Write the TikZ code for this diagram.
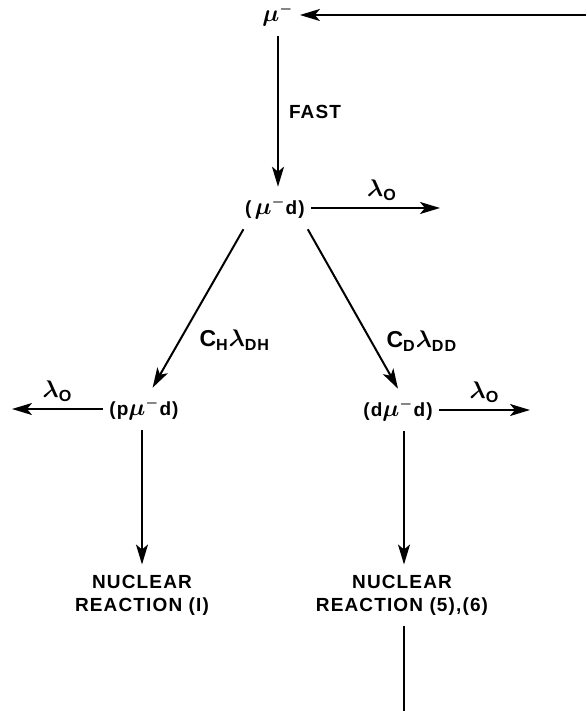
\documentclass[tikz,border=0pt]{standalone}
\usepackage{amsmath}
\usepackage{fontspec}
\setmainfont{Liberation Sans}
\newfontfamily\schemefont[LetterSpace=6]{Liberation Sans}
\newcommand{\muon}{{\fontsize{12.5}{13}\selectfont$\mu^{\scriptscriptstyle -}$}}
\usetikzlibrary{arrows.meta, positioning}

\begin{document}
\begin{tikzpicture}[x=0.5pt, y=-0.5pt,
  state/.style={inner xsep=3pt, inner ysep=5pt, font=\schemefont\bfseries\boldmath\fontsize{9.5}{11.5}\selectfont},
  arr/.style={-{Stealth[length=10pt, width=6pt, inset=2.5pt]}, line width=1pt},
  lbl/.style={font=\schemefont\bfseries\boldmath\fontsize{11.5}{13}\selectfont},
]
  \useasboundingbox (0,0) rectangle (586,711);

  % states
  \node[state] (mu)   at (278,15)  {\muon};
  \node[state] (mud)  at (275,208) {(\,\muon d)};
  \node[state] (pmud) at (144,409) {(p\muon d)};
  \node[state] (dmud) at (398,410) {(d\muon d)};
  \node[state, align=center] (nr1) at (142,595) {NUCLEAR\\REACTION (I)};
  \node[state, align=center] (nr2) at (402,595) {NUCLEAR\\REACTION (5),(6)};

  % loose ends
  \coordinate (back) at (586,15);
  \coordinate (lost) at (404,711);
  \coordinate (o1) at (440,208);
  \coordinate (o2) at (12,409);
  \coordinate (o3) at (530,410);

  \draw[arr] (back) -- (mu);
  \draw[arr] (mu.south) -- node[state, right=2pt]{FAST} (mu.south |- mud.north);
  \draw[arr] (mud) -- node[lbl, above=0pt, pos=0.55]{$\lambda_{\text{O}}$} (o1);
  \draw[arr] (mud.214) -- node[lbl, pos=0.7, right=6pt]{C$_{\text{H}}\lambda_{\text{DH}}$} (pmud.68);
  \draw[arr] (mud.327) -- node[lbl, pos=0.7, right=4pt]{C$_{\text{D}}\lambda_{\text{DD}}$} (dmud.north);
  \draw[arr] (pmud) -- node[lbl, above=0pt]{$\lambda_{\text{O}}$} (o2);
  \draw[arr] (dmud) -- node[lbl, above=0pt]{$\lambda_{\text{O}}$} (o3);
  \draw[arr] (pmud.south -| nr1.north) -- (nr1.north);
  \draw[arr] (dmud.south -| lost) -- (nr2.north -| lost);
  \draw[line width=1pt] (nr2.south -| lost) -- (lost);
\end{tikzpicture}
\end{document}
